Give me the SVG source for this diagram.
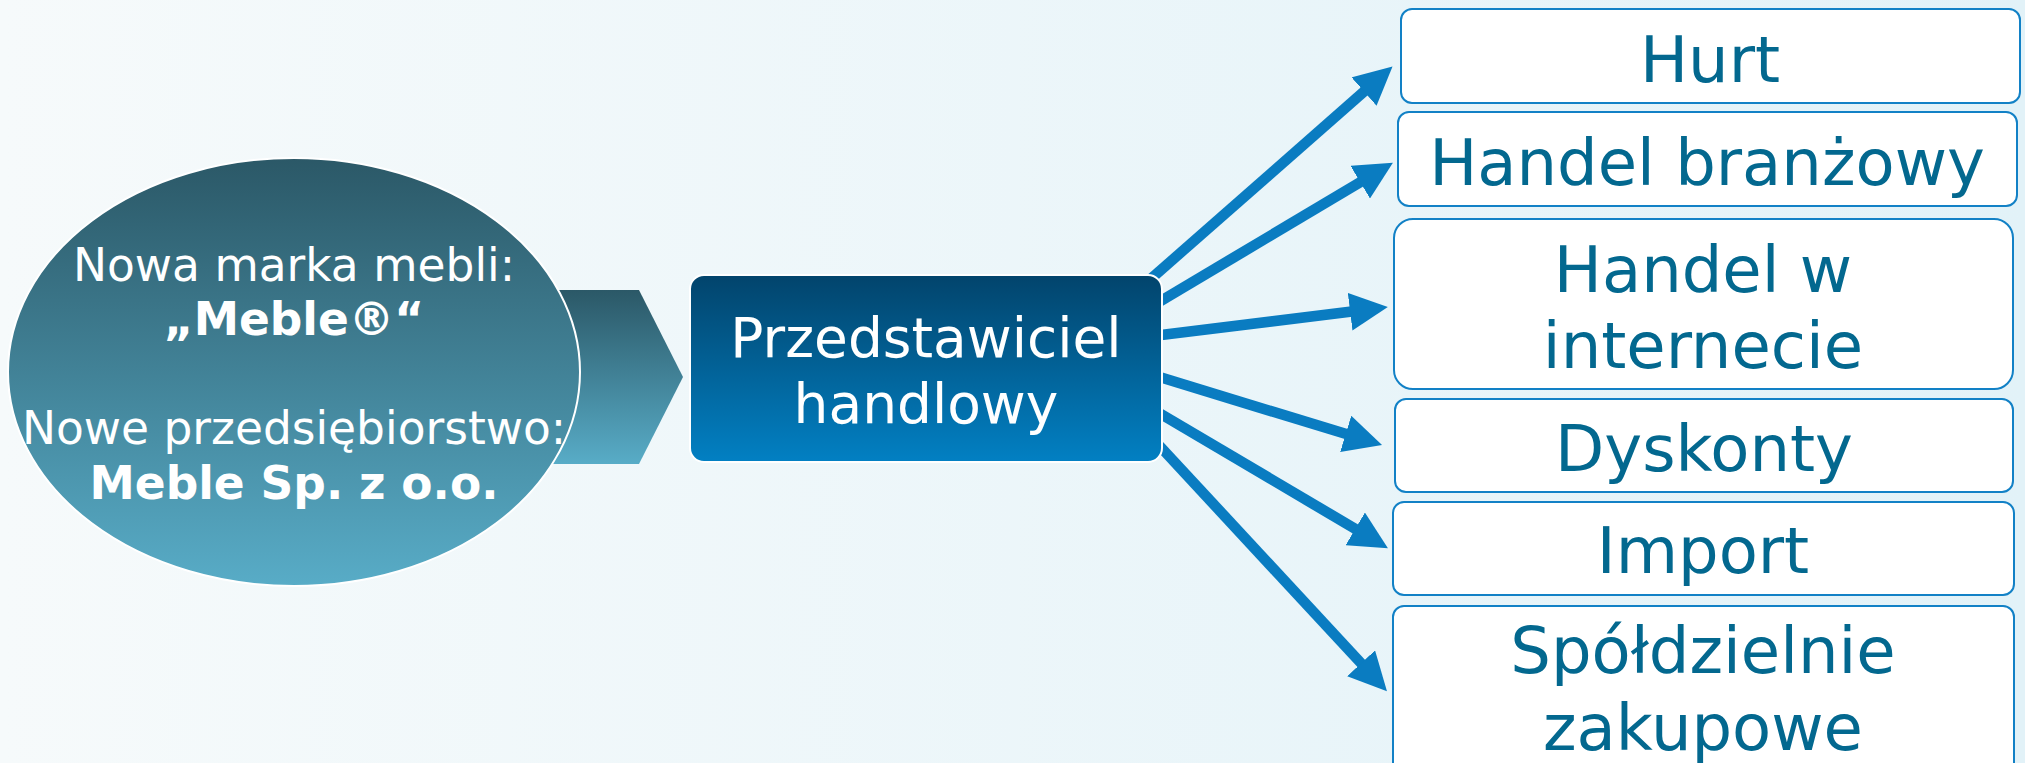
<svg xmlns="http://www.w3.org/2000/svg" width="2025" height="763" viewBox="0 0 2025 763">
<defs>
<linearGradient id="bg" x1="0" y1="0" x2="1" y2="0">
<stop offset="0" stop-color="#f6fafb"/>
<stop offset="1" stop-color="#e2f2f8"/>
</linearGradient>
<linearGradient id="teal" x1="0" y1="0" x2="0" y2="1">
<stop offset="0" stop-color="#2b5867"/>
<stop offset="1" stop-color="#58acc7"/>
</linearGradient>
<linearGradient id="navy" x1="0" y1="0" x2="0" y2="1">
<stop offset="0" stop-color="#02446c"/>
<stop offset="1" stop-color="#0280c3"/>
</linearGradient>
<marker id="ah" viewBox="0 0 38 38" refX="16" refY="19" markerWidth="38" markerHeight="38" markerUnits="userSpaceOnUse" orient="auto">
<path d="M0,0 L38,19 L0,38 Z" fill="#0a7cc1"/>
</marker>
<style>
.conn{stroke:#0a7cc1;stroke-width:10.5;fill:none;marker-end:url(#ah)}
.wt{fill:#ffffff;font-family:"DejaVu Sans",Verdana,sans-serif;text-anchor:middle}
.box{fill:#ffffff;stroke:#1281c6;stroke-width:2}
.bt{fill:#03688f;font-family:"DejaVu Sans",Verdana,sans-serif;font-size:64px;text-anchor:middle}
</style>
</defs>
<rect x="0" y="0" width="2025" height="763" fill="url(#bg)"/>

<g id="connectors">
<line class="conn" x1="1145" y1="284" x2="1376" y2="81"/>
<line class="conn" x1="1154" y1="305" x2="1374" y2="174"/>
<line class="conn" x1="1153" y1="336" x2="1366" y2="309.8"/>
<line class="conn" x1="1153" y1="375" x2="1361" y2="438.6"/>
<line class="conn" x1="1154" y1="410" x2="1369" y2="537"/>
<line class="conn" x1="1155" y1="441" x2="1372" y2="675"/>
</g>

<g id="chevron">
<polygon points="530,290 639,290 683,377 639,464 530,464" fill="url(#teal)"/>
</g>

<g id="source">
<ellipse cx="294" cy="372" rx="286" ry="214" fill="url(#teal)" stroke="#ffffff" stroke-width="2"/>
<text class="wt" font-size="45.5" x="294" y="281">Nowa marka mebli:</text>
<text class="wt" font-size="45.5" font-weight="bold" x="294" y="335">„Meble®“</text>
<text class="wt" font-size="45.5" x="294" y="444">Nowe przedsiębiorstwo:</text>
<text class="wt" font-size="45.5" font-weight="bold" x="294" y="499">Meble Sp. z o.o.</text>
</g>

<g id="rep">
<rect x="690" y="275" width="472" height="187" rx="14" fill="url(#navy)" stroke="#ffffff" stroke-width="2"/>
<text class="wt" font-size="55" x="926" y="357">Przedstawiciel</text>
<text class="wt" font-size="55" x="926" y="423">handlowy</text>
</g>

<g id="hurt">
<rect class="box" x="1401" y="9" width="619" height="94" rx="11"/>
<text class="bt" x="1710" y="82">Hurt</text>
</g>
<g id="handel-branzowy">
<rect class="box" x="1398" y="112" width="619" height="94" rx="11"/>
<text class="bt" x="1707" y="185">Handel branżowy</text>
</g>
<g id="handel-internet">
<rect class="box" x="1394" y="219" width="619" height="170" rx="19"/>
<text class="bt" x="1703" y="292">Handel w</text>
<text class="bt" x="1703" y="368">internecie</text>
</g>
<g id="dyskonty">
<rect class="box" x="1395" y="399" width="618" height="93" rx="11"/>
<text class="bt" x="1704" y="471">Dyskonty</text>
</g>
<g id="import">
<rect class="box" x="1393" y="502" width="621" height="93" rx="11"/>
<text class="bt" x="1703" y="573">Import</text>
</g>
<g id="spoldzielnie">
<rect class="box" x="1393" y="606" width="621" height="170" rx="11"/>
<text class="bt" x="1703" y="673">Spółdzielnie</text>
<text class="bt" x="1703" y="750">zakupowe</text>
</g>
</svg>
